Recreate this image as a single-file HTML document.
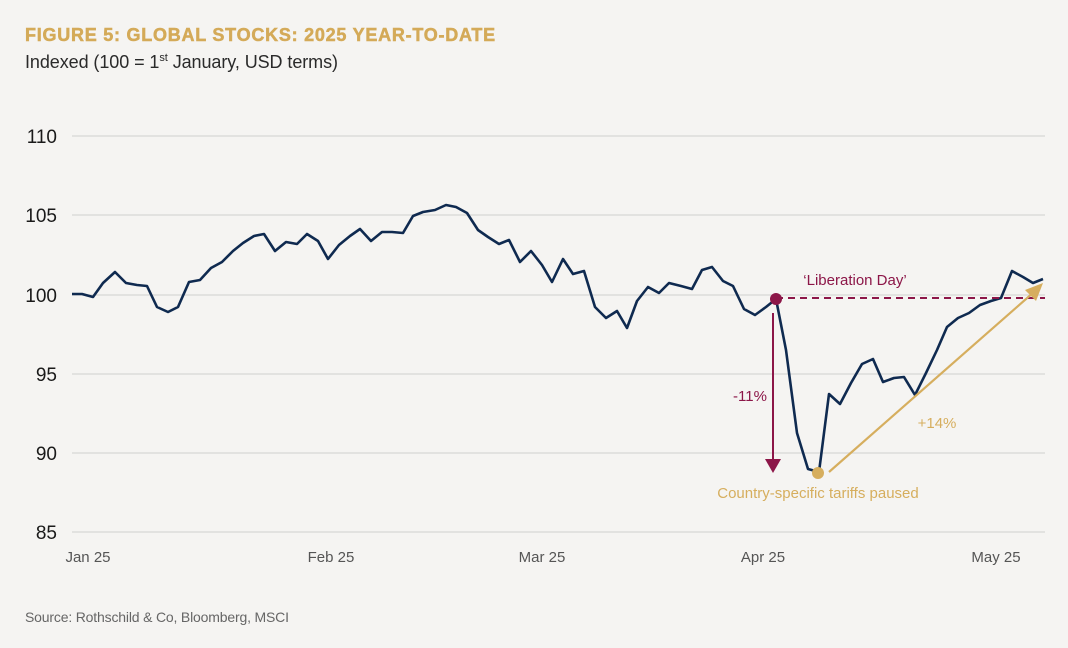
<!DOCTYPE html>
<html><head><meta charset="utf-8"><style>
html,body{margin:0;padding:0;background:#f5f4f2;}
svg{display:block;font-family:"Liberation Sans",sans-serif;}
</style></head><body>
<svg width="1068" height="648" viewBox="0 0 1068 648" xmlns="http://www.w3.org/2000/svg">
<rect width="1068" height="648" fill="#f5f4f2"/>
<text x="25" y="41" font-size="18" font-weight="bold" fill="#d4aa58" letter-spacing="0.75" stroke="#d4aa58" stroke-width="0.5">FIGURE 5: GLOBAL STOCKS: 2025 YEAR-TO-DATE</text>
<text x="25" y="68" font-size="18" fill="#2a2a2a" textLength="313">Indexed (100 = 1<tspan font-size="11" dy="-7">st</tspan><tspan dy="7"> January, USD terms)</tspan></text>
<g stroke="#d6d6d6" stroke-width="1.2">
<line x1="72" x2="1045" y1="136" y2="136"/>
<line x1="72" x2="1045" y1="215" y2="215"/>
<line x1="72" x2="1045" y1="295" y2="295"/>
<line x1="72" x2="1045" y1="374" y2="374"/>
<line x1="72" x2="1045" y1="453" y2="453"/>
<line x1="72" x2="1045" y1="532" y2="532"/>
</g>
<g font-size="19" fill="#1a1a1a" text-anchor="end">
<text x="57" y="143">110</text>
<text x="57" y="222">105</text>
<text x="57" y="302">100</text>
<text x="57" y="381">95</text>
<text x="57" y="460">90</text>
<text x="57" y="539">85</text>
</g>
<g font-size="15" fill="#555" text-anchor="middle">
<text x="88" y="562">Jan 25</text>
<text x="331" y="562">Feb 25</text>
<text x="542" y="562">Mar 25</text>
<text x="763" y="562">Apr 25</text>
<text x="996" y="562">May 25</text>
</g>
<polyline fill="none" stroke="#0f2a50" stroke-width="2.6" stroke-linejoin="round" points="72,294 82,294 93,297 103,283 115,272 126,283 137,285 147,286 157,307 168,312 178,307 189,282 200,280 211,268 222,262 233,251 243,243 254,236 264,234 275,251 286,242 297,244 307,234 318,241 328,259 339,245 350,236 360,229 371,241 382,232 392,232 403,233 413,216 423,212 435,210 446,205 456,207 467,213 478,230 488,237 499,244 509,240 520,262 531,251 542,265 552,282 563,259 573,274 584,271 595,307 606,318 617,311 627,328 637,301 648,287 659,293 669,283 681,286 692,289 702,270 712,267 723,281 733,286 744,309 755,315 766,307 776,299 786,350 797,433 808,469 819,472 829,394 840,404 851,383 862,364 873,359 883,382 894,378 904,377 915,395 926,373 937,350 947,327 958,318 969,313 980,305 991,301 1001,298 1012,271 1023,277 1033,283 1043,279"/>
<line x1="776" y1="298" x2="1045" y2="298" stroke="#8c1648" stroke-width="2" stroke-dasharray="7,5"/>
<circle cx="776" cy="299" r="6" fill="#8c1648"/>
<line x1="773" y1="313" x2="773" y2="460" stroke="#8c1648" stroke-width="2"/>
<polygon points="765,459 781,459 773,473" fill="#8c1648"/>
<text x="750" y="401" font-size="15" fill="#8c1648" text-anchor="middle">-11%</text>
<text x="855" y="285" font-size="15" fill="#8c1648" text-anchor="middle">‘Liberation Day’</text>
<line x1="829" y1="472" x2="1034" y2="292" stroke="#d6ae5e" stroke-width="2.2"/>
<polygon points="1043,283 1025,290 1036,301" fill="#d6ae5e"/>
<circle cx="818" cy="473" r="6" fill="#d6ae5e"/>
<text x="937" y="428" font-size="15" fill="#d6ae5e" text-anchor="middle">+14%</text>
<text x="818" y="498" font-size="15" fill="#d6ae5e" text-anchor="middle">Country-specific tariffs paused</text>
<text x="25" y="622" font-size="14" fill="#666" textLength="264">Source: Rothschild &amp; Co, Bloomberg, MSCI</text>
</svg>
</body></html>
